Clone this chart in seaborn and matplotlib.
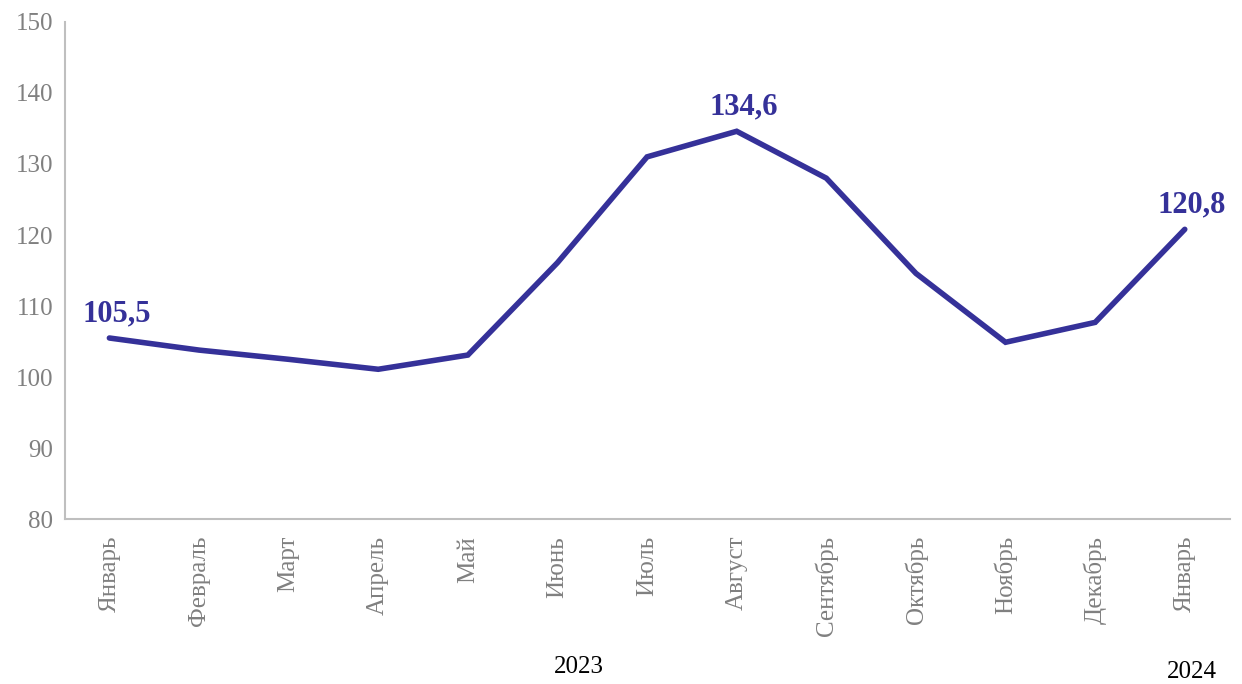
import numpy as np
import pandas as pd
import seaborn as sns
import matplotlib.pyplot as plt
from matplotlib import transforms

# Данные графика
months = ['Январь', 'Февраль', 'Март', 'Апрель', 'Май', 'Июнь', 'Июль',
          'Август', 'Сентябрь', 'Октябрь', 'Ноябрь', 'Декабрь', 'Январь']
values = [105.5, 103.8, 102.5, 101.1, 103.1, 116.1, 131.0,
          134.6, 128.0, 114.6, 104.9, 107.7, 120.8]
labeled_idx = [0, 7, 12]
years = ['2023', '2024']

line_color = '#353199'
grey_text = '#808080'

sns.set_style('white')
plt.rcParams['font.family'] = ['Liberation Serif', 'DejaVu Serif']

df = pd.DataFrame({'pos': np.arange(len(months)), 'value': values})

fig = plt.figure(figsize=(12.42, 6.84), dpi=100)
ax = fig.add_axes([0.052, 0.241, 0.938, 0.727])

sns.lineplot(data=df, x='pos', y='value', ax=ax, color=line_color,
             linewidth=4, solid_capstyle='round', solid_joinstyle='miter')

ax.set_xlim(-0.5, len(months) - 0.5)
ax.set_ylim(80, 150)
ax.set_yticks(np.arange(80, 151, 10))
ax.set_xticks(df['pos'])
ax.set_xticklabels(months, rotation=90, fontsize=18, color=grey_text)
ax.tick_params(axis='y', labelsize=18, colors=grey_text, length=0, pad=8)
ax.tick_params(axis='x', length=0, pad=12)
ax.set_xlabel('')
ax.set_ylabel('')

for side in ['top', 'right']:
    ax.spines[side].set_visible(False)
for side in ['left', 'bottom']:
    ax.spines[side].set_color('#bfbfbf')
    ax.spines[side].set_linewidth(1.5)

# Подписи значений
for i in labeled_idx:
    ax.annotate(f'{values[i]:.1f}'.replace('.', ','), (i, values[i]),
                xytext=(5, 7), textcoords='offset points',
                ha='center', va='bottom', fontsize=22, fontweight='bold',
                color=line_color)

# Годы под осью
trans = transforms.blended_transform_factory(ax.transData, fig.transFigure)
ax.text(5.24, 0.025, years[0], transform=trans, ha='center', va='center',
        fontsize=18, color='black')
ax.text(12.08, 0.018, years[1], transform=trans, ha='center', va='center',
        fontsize=18, color='black')

fig.savefig('out.png', dpi=100)
